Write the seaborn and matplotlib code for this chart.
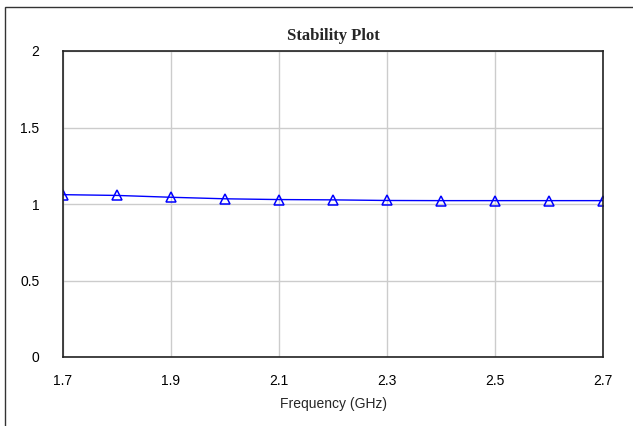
import numpy as np
import pandas as pd
import matplotlib
matplotlib.use("Agg")
import matplotlib.pyplot as plt
import seaborn as sns
from matplotlib.patches import Rectangle

# stability factor K vs frequency
freq = [1.7, 1.8, 1.9, 2.0, 2.1, 2.2, 2.3, 2.4, 2.5, 2.6, 2.7]
k_factor = [1.061, 1.056, 1.044, 1.034, 1.029, 1.027, 1.023, 1.022, 1.022, 1.022, 1.022]
x_ticks = [1.7, 1.9, 2.1, 2.3, 2.5, 2.7]
y_ticks = [0, 0.5, 1, 1.5, 2]

df = pd.DataFrame({"freq": freq, "k": k_factor})

sns.set_style("whitegrid")
plt.rcParams['font.family'] = ['Liberation Sans', 'DejaVu Sans']

fig = plt.figure(figsize=(6.33, 4.26), dpi=100)
ax = fig.add_axes([63 / 633, 1 - 357 / 426, 540 / 633, 306 / 426])

sns.lineplot(x="freq", y="k", data=df, ax=ax, color="#0000ff", linewidth=1,
             marker="^", markersize=7.5, markerfacecolor="none",
             markeredgecolor="#0000ff", markeredgewidth=1.1)

ax.set_xlim(1.7, 2.7)
ax.set_ylim(0, 2)
ax.set_xticks(x_ticks)
ax.set_xticklabels([f"{v:g}" for v in x_ticks])
ax.set_yticks(y_ticks)
ax.set_yticklabels([f"{v:g}" for v in y_ticks])
ax.tick_params(axis="both", length=0, labelsize=10, colors="black")
ax.tick_params(axis="x", pad=12)
ax.tick_params(axis="y", pad=17)

ax.grid(True, color="#cccccc", linewidth=1)
for sp in ax.spines.values():
    sp.set_color("#222222")
    sp.set_linewidth(1.2)

ax.set_xlabel("Frequency (GHz)", fontsize=10, labelpad=7)
ax.set_ylabel("")
ax.set_title("Stability Plot", fontsize=12, fontweight="bold",
             family=["Liberation Serif", "DejaVu Serif"], pad=8)

# outer frame of the original export
fig.patches.append(Rectangle((5 / 633, -0.1), 1.2, 1 - 7 / 426 + 0.1,
                             transform=fig.transFigure, fill=False,
                             edgecolor="#333333", linewidth=1))

fig.savefig("out.png", dpi=100)
